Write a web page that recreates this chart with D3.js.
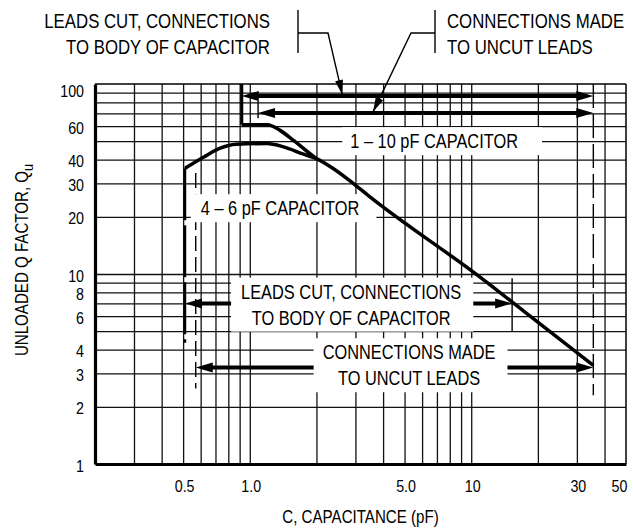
<!DOCTYPE html>
<html>
<head>
<meta charset="utf-8">
<script src="https://cdn.jsdelivr.net/npm/d3@7"></script>
<style>
    body { margin: 0; background: #fff; }
    svg text { font-family: "Liberation Sans", Arial, sans-serif; fill: #000; }
</style>
</head>
<body>
<svg id="qChart"></svg>
<script>
// tick labels
var capTicks = [0.5, 1.0, 5.0, 10, 30, 50];
var capTickLabels = ["0.5", "1.0", "5.0", "10", "30", "50"];
var qTicks = [100, 60, 40, 30, 20, 10, 8, 6, 4, 3, 2, 1];

// grid
var capGrid = [0.3, 0.4, 0.5, 0.6, 0.7, 0.8, 0.9, 1, 2, 3, 4, 5, 6, 7, 8, 9, 10, 20, 30, 40];
var qGrid = [2, 3, 4, 5, 6, 7, 8, 9, 10, 20, 30, 40, 50, 60, 70, 80, 90];

// curves
var cap1to10 = [0.92, 1.2, 1.37, 1.57, 1.87, 2.0];
var q1to10 = [61, 61, 57, 50.7, 43, 40.5];
var cap4to6 = [0.51, 0.62, 0.73, 0.87, 1.19, 1.42, 1.75, 2.0, 2.38, 2.94, 3.5, 11, 17.2, 35.6];
var q4to6 = [36, 41.3, 45.8, 48.2, 48.6, 46.7, 42.7, 40.5, 35.9, 29.9, 25.4, 9.6, 6.4, 3.3];

// range arrows (two heads)
var arrowFrom = [0.92, 1.09, 0.51, 0.57];
var arrowTo = [35.6, 35.6, 15.3, 35.6];
var arrowQ = [86.4, 70.3, 7.0, 3.22];

// dashed limit lines
var dashCap = [0.51, 0.57, 35.6];
var dashTop = [36, 34, 100];
var dashBottom = [4.35, 2.5, 2.3];
var dashWidth = [2.4, 1.4, 1.4];
var dashPattern = ["52,5", "15,6", "24,6"];

// short solid stops
var stopCap = [0.92, 1.09, 15.3];
var stopTop = [100, 82, 9.5];
var stopBottom = [61, 66, 5.0];
var stopWidth = [3, 1.4, 1.4];

// labels inside the plot
var annoLines = [["1 \u2013 10 pF CAPACITOR"], ["4 \u2013 6 pF CAPACITOR"],
    ["LEADS CUT, CONNECTIONS", "TO BODY OF CAPACITOR"], ["CONNECTIONS MADE", "TO UNCUT LEADS"]];
var annoCap = [6.8, 1.37, 2.87, 5.24];
var annoQ = [50, 22.2, 6.9, 3.31];

var width = 633, height = 531;
var margin = { "left": 95, "right": 7, "top": 84, "bottom": 67 };
var squeeze = 0.84;   // condensed look of the original lettering

var svg = d3.select("#qChart")
    .attr("width", width)
    .attr("height", height);

svg.append("rect").attr("width", width).attr("height", height).attr("fill", "#fff");

var x = d3.scaleLog()
    .domain([0.2, 50])
    .range([margin.left, width - margin.right]);

var y = d3.scaleLog()
    .domain([1, 100])
    .range([height - margin.bottom, margin.top]);

var plotW = width - margin.left - margin.right;
var plotH = height - margin.top - margin.bottom;

// narrow text: a group at (px, py) squeezed horizontally
function narrowText(parent, px, py, size, anchor) {
    return parent.append("g")
        .attr("transform", "translate(" + px + "," + py + ") scale(" + squeeze + ",1)")
        .append("text")
        .attr("text-anchor", anchor)
        .style("font-size", size + "px");
}

// add the X gridlines
svg.append("g")
    .attr("class", "grid")
    .attr("transform", "translate(0," + (height - margin.bottom) + ")")
    .call(d3.axisBottom(x).tickValues(capGrid).tickSize(-plotH).tickFormat(""))
    .call(g => g.select(".domain").remove());

// add the Y gridlines
svg.append("g")
    .attr("class", "grid")
    .attr("transform", "translate(" + margin.left + ",0)")
    .call(d3.axisLeft(y).tickValues(qGrid).tickSize(-plotW).tickFormat(""))
    .call(g => g.select(".domain").remove());

svg.selectAll(".grid line")
    .attr("stroke", "#111")
    .attr("stroke-width", 1.3);

// dashed limit lines
svg.append("g").selectAll("line")
    .data(dashCap)
    .join("line")
    .attr("x1", d => x(d)).attr("x2", d => x(d))
    .attr("y1", (d, i) => y(dashTop[i]))
    .attr("y2", (d, i) => y(dashBottom[i]))
    .attr("stroke", "#000")
    .attr("stroke-width", (d, i) => dashWidth[i])
    .attr("stroke-dasharray", (d, i) => dashPattern[i]);

// short solid stops
svg.append("g").selectAll("line")
    .data(stopCap)
    .join("line")
    .attr("x1", d => x(d)).attr("x2", d => x(d))
    .attr("y1", (d, i) => y(stopTop[i]))
    .attr("y2", (d, i) => y(stopBottom[i]))
    .attr("stroke", "#000")
    .attr("stroke-width", (d, i) => stopWidth[i]);

// arrow with heads at both ends
function arrowHead(tipX, tipY, dir) {
    var len = 17, half = 5;
    return "M" + tipX + "," + tipY +
        "L" + (tipX + dir * len) + "," + (tipY - half) +
        "L" + (tipX + dir * len) + "," + (tipY + half) + "Z";
}

var arrows = svg.append("g");
arrowFrom.forEach(function(c, i) {
    var x1 = x(c), x2 = x(arrowTo[i]), yy = y(arrowQ[i]);
    arrows.append("line")
        .attr("x1", x1 + 8).attr("x2", x2 - 8)
        .attr("y1", yy).attr("y2", yy)
        .attr("stroke", "#000")
        .attr("stroke-width", 4);
    arrows.append("path").attr("d", arrowHead(x1, yy, 1)).attr("fill", "#000");
    arrows.append("path").attr("d", arrowHead(x2, yy, -1)).attr("fill", "#000");
});

// labels with white boxes
var annoPad = [[8, 24], [10, 17], [10, 12], [9, 12]];
annoLines.forEach(function(lines, i) {
    var g = svg.append("g");
    var cx = x(annoCap[i]), cy = y(annoQ[i]);
    var lineH = 26;
    var box = g.append("rect").attr("fill", "#fff");
    var t = narrowText(g, cx, cy, 19.5, "middle");
    lines.forEach(function(s, k) {
        t.append("tspan")
            .attr("x", 0)
            .attr("y", (k - (lines.length - 1) / 2) * lineH)
            .attr("dy", "0.36em")
            .text(s);
    });
    var bw = t.node().getBBox().width * squeeze;
    box.attr("x", cx - bw / 2 - annoPad[i][0])
        .attr("width", bw + annoPad[i][0] + annoPad[i][1])
        .attr("y", cy - (lines.length * lineH) / 2 - 1)
        .attr("height", lines.length * lineH + 2);
});

// curves
var lineFn = d3.line()
    .x(d => x(d[0]))
    .y(d => y(d[1]))
    .curve(d3.curveMonotoneX);

svg.append("path")
    .datum(cap1to10.map((c, i) => [c, q1to10[i]]))
    .attr("d", lineFn)
    .attr("fill", "none")
    .attr("stroke", "#000")
    .attr("stroke-width", 3.5);

svg.append("path")
    .datum(cap4to6.map((c, i) => [c, q4to6[i]]))
    .attr("d", lineFn)
    .attr("fill", "none")
    .attr("stroke", "#000")
    .attr("stroke-width", 3.5);

// frame
svg.append("line")
    .attr("x1", x(0.2)).attr("x2", x(50))
    .attr("y1", y(100)).attr("y2", y(100))
    .attr("stroke", "#000").attr("stroke-width", 1.5);
svg.append("line")
    .attr("x1", x(50)).attr("x2", x(50))
    .attr("y1", y(100)).attr("y2", y(1))
    .attr("stroke", "#000").attr("stroke-width", 1.5);

// axes
var gx = svg.append("g")
    .attr("transform", "translate(0," + (height - margin.bottom) + ")")
    .call(d3.axisBottom(x).tickValues(capTicks).tickSize(0).tickPadding(16)
        .tickFormat((d, i) => capTickLabels[i]));
gx.select(".domain").attr("stroke", "#000").attr("stroke-width", 3.2);
gx.selectAll("text")
    .style("font-size", "17px").attr("fill", "#000")
    .attr("transform", "scale(" + squeeze + ",1)")
    .attr("x", d => (d == 50 ? -7 : 1) / squeeze);

var gy = svg.append("g")
    .attr("transform", "translate(" + margin.left + ",0)")
    .call(d3.axisLeft(y).tickValues(qTicks).tickSize(0).tickPadding(10)
        .tickFormat(d3.format("d")));
gy.select(".domain").attr("stroke", "#000").attr("stroke-width", 3.2);
gy.selectAll("text")
    .style("font-size", "17px").attr("fill", "#000")
    .attr("transform", "scale(" + squeeze + ",1)")
    .attr("x", -11 / squeeze)
    .attr("dy", d => d == 100 ? "0.72em" : "0.42em");

// axis titles
narrowText(svg, x(Math.sqrt(0.2 * 50)), height - 8, 18, "middle")
    .text("C, CAPACITANCE (pF)");

var yTitle = svg.append("g")
    .attr("transform", "translate(28," + (y(10) - 14) + ") rotate(-90) scale(" + squeeze + ",1)")
    .append("text")
    .attr("text-anchor", "middle")
    .style("font-size", "18px");
yTitle.append("tspan").text("UNLOADED Q FACTOR, Q");
yTitle.append("tspan").attr("dy", "0.3em").style("font-size", "15px").text("u");

// callouts above the plot
var left = narrowText(svg, 270, 0, 20, "end");
left.append("tspan").attr("x", 0).attr("y", 28).text("LEADS CUT, CONNECTIONS");
left.append("tspan").attr("x", 0).attr("y", 54).text("TO BODY OF CAPACITOR");
var right = narrowText(svg, 447, 0, 20, "start");
right.append("tspan").attr("x", 0).attr("y", 28).text("CONNECTIONS MADE");
right.append("tspan").attr("x", 0).attr("y", 54).text("TO UNCUT LEADS");

function callout(points, post) {
    svg.append("path")
        .attr("d", d3.line()(points))
        .attr("fill", "none")
        .attr("stroke", "#000")
        .attr("stroke-width", 1.4);
    var p = points[points.length - 1];
    var q = points[points.length - 2];
    var ang = Math.atan2(p[1] - q[1], p[0] - q[0]);
    var len = 15, half = 4;
    var bx = p[0] - len * Math.cos(ang), by = p[1] - len * Math.sin(ang);
    svg.append("path")
        .attr("d", "M" + p[0] + "," + p[1] +
            "L" + (bx + half * Math.sin(ang)) + "," + (by - half * Math.cos(ang)) +
            "L" + (bx - half * Math.sin(ang)) + "," + (by + half * Math.cos(ang)) + "Z")
        .attr("fill", "#000");
    svg.append("line")
        .attr("x1", post).attr("x2", post)
        .attr("y1", 10).attr("y2", 53)
        .attr("stroke", "#000").attr("stroke-width", 1.4);
}
callout([[298, 33], [328, 33], [x(2.62), y(arrowQ[0]) - 1]], 298);
callout([[435, 33], [411, 33], [x(3.6), y(arrowQ[1]) - 1]], 435);
</script>
</body>
</html>
